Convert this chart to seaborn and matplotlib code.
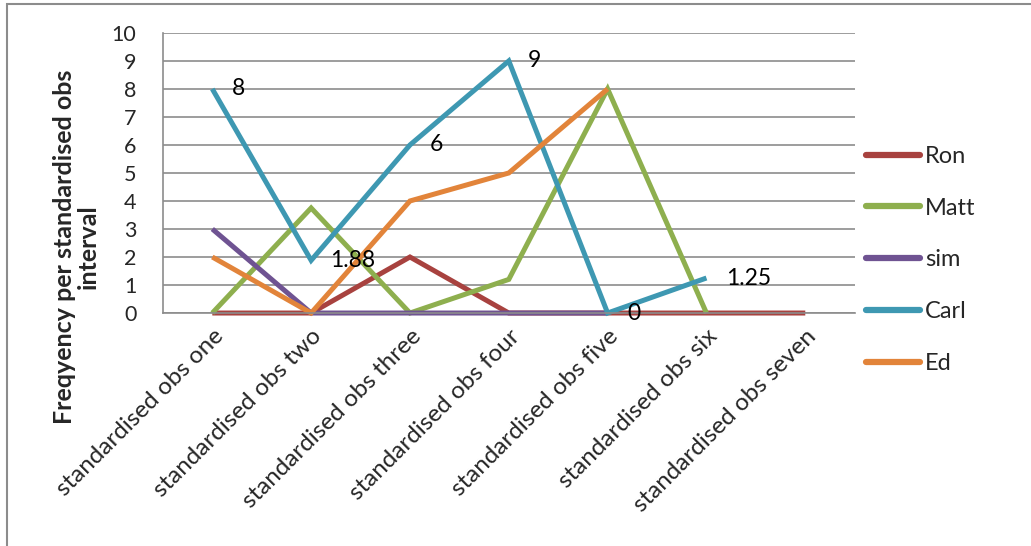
import pandas as pd
import seaborn as sns
import matplotlib.pyplot as plt
from matplotlib.patches import Rectangle

categories = ["standardised obs one", "standardised obs two", "standardised obs three",
              "standardised obs four", "standardised obs five", "standardised obs six",
              "standardised obs seven"]
ron = [0, 0, 2, 0, 0, 0, 0]
matt = [0, 3.75, 0, 1.2, 8, 0]
sim = [3, 0, 0, 0, 0]
carl = [8, 1.88, 6, 9, 0, 1.25]
ed = [2, 0, 4, 5, 8]
carl_labels = ["8", "1.88", "6", "9", "0", "1.25"]

series = {"Ron": ron, "Matt": matt, "sim": sim, "Carl": carl, "Ed": ed}
colors = {"Ron": "#A8423F", "Matt": "#8EAF4E", "sim": "#6F5392",
          "Carl": "#3E98B2", "Ed": "#E2843A"}

rows = []
for name, vals in series.items():
    for i, v in enumerate(vals):
        rows.append({"pos": i, "value": v, "who": name})
df = pd.DataFrame(rows)

sns.set_style("white")
plt.rcParams['font.family'] = ['Lato', 'DejaVu Sans']

fig = plt.figure(figsize=(10.31, 5.46), dpi=100)
ax = fig.add_axes([0.158, 0.4267, 0.671, 0.513])

sns.lineplot(data=df, x="pos", y="value", hue="who", palette=colors,
             hue_order=list(series.keys()), linewidth=3.6, sort=False, ax=ax,
             legend=True)
for ln in ax.get_lines():
    ln.set_solid_joinstyle("miter")
    ln.set_solid_capstyle("butt")
    ln.set_clip_on(False)

# data labels for Carl
for i, (v, lab) in enumerate(zip(carl, carl_labels)):
    ax.annotate(lab, (i, v), xytext=(14, 0), textcoords="offset points",
                ha="left", va="center", fontsize=16.5, color="black")

ax.set_xlim(-0.5, 6.5)
ax.set_ylim(0, 10)
ax.set_yticks(range(0, 11))
ax.set_xticks(range(len(categories)))
ax.set_xticklabels(categories, rotation=45, ha="right", rotation_mode="anchor",
                   fontsize=17.5)
ax.tick_params(axis="y", labelsize=15.5, length=0, pad=19, left=True)
ax.tick_params(axis="x", length=0, pad=9)
ax.yaxis.grid(True, color="#8c8c8c", linewidth=1.2)
ax.set_axisbelow(True)
for s in ["top", "right"]:
    ax.spines[s].set_visible(False)
for s in ["left", "bottom"]:
    ax.spines[s].set_color("#8c8c8c")
    ax.spines[s].set_linewidth(1.2)

ax.set_xlabel("")
ax.set_ylabel("Freqyency per standardised obs\ninterval", fontsize=18,
              fontweight="bold", linespacing=1.05)
ax.yaxis.set_label_coords(-0.091, 0.236)

leg = ax.legend(loc="center left", bbox_to_anchor=(0.840, 0.524),
                bbox_transform=fig.transFigure, frameon=False,
                fontsize=17, handlelength=2.3, handletextpad=0.2,
                labelspacing=1.3, borderaxespad=0, borderpad=0)
for h in leg.get_lines():
    h.set_linewidth(4.5)
    h.set_solid_capstyle("round")

# chart frame: only top and left edges are inside the picture
fig.patches.append(Rectangle((7 / 1031, -0.05), 1.1, 1.05 - 4 / 546,
                             transform=fig.transFigure, fill=False,
                             edgecolor="#8c8c8c", linewidth=1.5))

fig.savefig("out.png", dpi=100)
